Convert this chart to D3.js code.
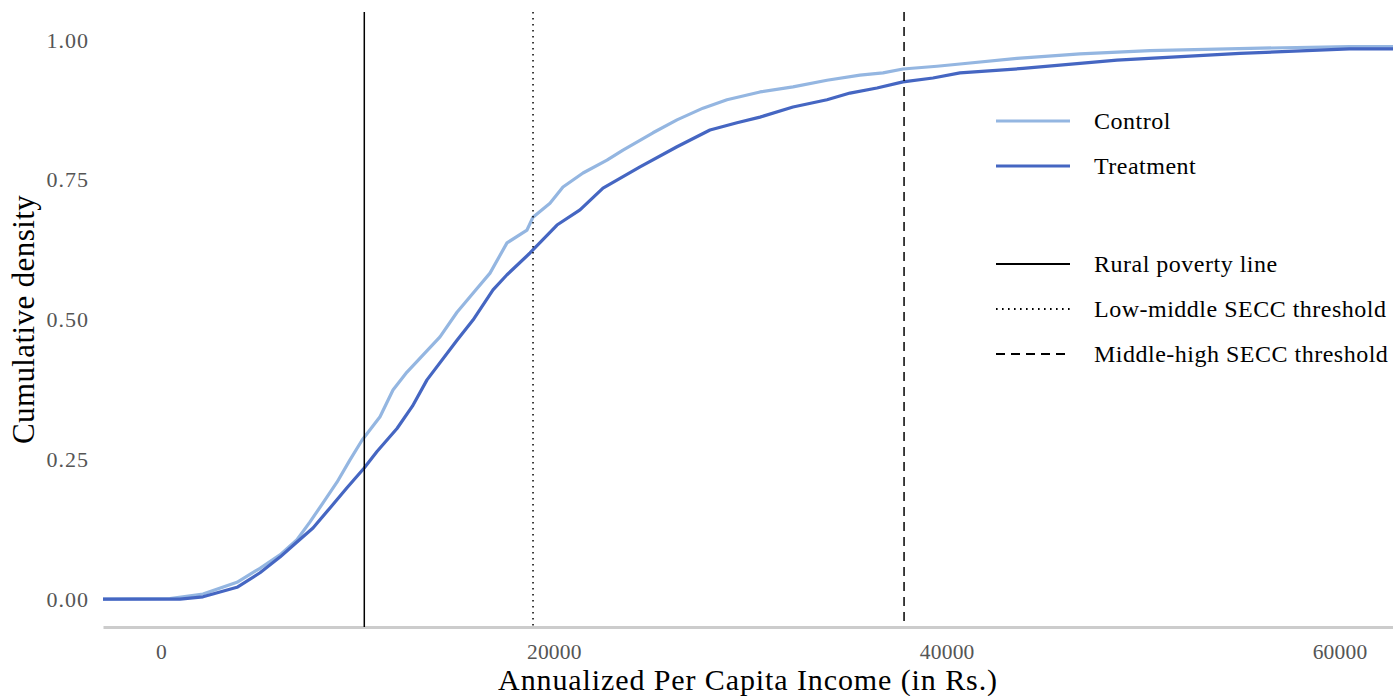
<!DOCTYPE html>
<html><head><meta charset="utf-8">
<script src="https://cdn.jsdelivr.net/npm/d3@7"></script>
<style>
body{margin:0;background:#fff}
svg{display:block}
text{font-family:"Liberation Serif","Times New Roman",serif}
</style>
</head><body>
<svg id="chart" width="1393" height="696"></svg>
<script>
// ---- data ----
const controlIncome = [458, 2138, 3869, 5040, 6058, 6924, 7586, 8248, 8960, 9622, 10233, 11150, 11811, 12524, 14204, 15070, 15884, 16750, 17615, 18633, 18939, 19804, 20466, 21485, 22706, 23521, 25048, 26270, 27594, 28816, 30496, 32176, 33907, 35587, 36758, 37776, 39507, 40678, 43580, 46787, 50351, 55442, 60500];
const controlCdf    = [0.001, 0.009, 0.030, 0.055, 0.079, 0.106, 0.138, 0.172, 0.209, 0.249, 0.284, 0.326, 0.374, 0.406, 0.469, 0.513, 0.547, 0.583, 0.637, 0.660, 0.683, 0.708, 0.737, 0.762, 0.785, 0.803, 0.834, 0.857, 0.878, 0.893, 0.907, 0.916, 0.928, 0.937, 0.941, 0.948, 0.953, 0.957, 0.967, 0.975, 0.981, 0.985, 0.988];
const treatmentIncome = [967, 2138, 3869, 5040, 6058, 6924, 7738, 8604, 9469, 10335, 10997, 12015, 12800, 13542, 15070, 15884, 16903, 17615, 18786, 20161, 21332, 22503, 24387, 26270, 27950, 29325, 30496, 32176, 33907, 35078, 36452, 37776, 39303, 40678, 43885, 48671, 54933, 60500];
const treatmentCdf    = [0.000, 0.004, 0.021, 0.047, 0.075, 0.102, 0.127, 0.163, 0.199, 0.234, 0.264, 0.305, 0.345, 0.392, 0.463, 0.499, 0.553, 0.580, 0.619, 0.669, 0.696, 0.735, 0.773, 0.809, 0.839, 0.852, 0.862, 0.880, 0.893, 0.905, 0.914, 0.925, 0.932, 0.941, 0.949, 0.964, 0.976, 0.984];
const groupNames = ["Control", "Treatment"];
const thresholdNames  = ["Rural poverty line", "Low-middle SECC threshold", "Middle-high SECC threshold"];
const thresholdValues = [10350, 18940, 37830];
const xTickValues = [0, 20000, 40000, 60000];
const yTickValues = [0, 0.25, 0.5, 0.75, 1];
const xDomain = [-2953, 62723];
const yDomain = [-0.05, 1.05];

// ---- styles ----
const groupColors = {"Control": "#94b6e1", "Treatment": "#4566c2"};
const thresholdDash = {"Rural poverty line": null, "Low-middle SECC threshold": "1.6,4.4", "Middle-high SECC threshold": "9,6"};

const svg = d3.select("#chart");
const margin = {left: 103, right: 0, top: 12, bottom: 69};
const W = 1393, H = 696;
const x = d3.scaleLinear().domain(xDomain).range([margin.left, W - margin.right]);
const y = d3.scaleLinear().domain(yDomain).range([H - margin.bottom, margin.top]);

svg.append("clipPath").attr("id", "clip").append("rect")
  .attr("x", margin.left).attr("y", margin.top)
  .attr("width", W - margin.left - margin.right).attr("height", H - margin.top - margin.bottom);

// axes
const xAxis = svg.append("g").attr("transform", `translate(0,${y.range()[0]})`)
  .call(d3.axisBottom(x).tickValues(xTickValues).tickFormat(d3.format("d")).tickSize(0).tickSizeOuter(0).tickPadding(17));
xAxis.select(".domain").attr("stroke", "#cccccc").attr("stroke-width", 3);
xAxis.selectAll("text").attr("fill", "#555").style("font-size", "21.5px").attr("dy", "0.71em").style("letter-spacing", "0.2px");

const yAxis = svg.append("g").attr("transform", `translate(${margin.left},0)`)
  .call(d3.axisLeft(y).tickValues(yTickValues).tickFormat(d3.format(".2f")).tickSize(0).tickPadding(14));
yAxis.select(".domain").remove();
yAxis.selectAll("text").attr("fill", "#555").style("font-size", "22px").style("letter-spacing", "1px");

// series
const series = [
  {name: "Control", pts: controlIncome.map((v, i) => [v, controlCdf[i]])},
  {name: "Treatment", pts: treatmentIncome.map((v, i) => [v, treatmentCdf[i]])}
];
// pad like an ECDF: flat at 0 to the left edge and flat at the last value to the right edge
series.forEach(s => {
  s.pts.unshift([xDomain[0], 0]);
  s.pts.push([xDomain[1], s.pts[s.pts.length - 1][1]]);
});
const line = d3.line().x(d => x(d[0])).y(d => y(d[1]));
const plot = svg.append("g").attr("clip-path", "url(#clip)");
plot.selectAll("path.series").data(series).join("path")
  .attr("class", "series")
  .attr("d", d => line(d.pts))
  .attr("fill", "none")
  .attr("stroke", d => groupColors[d.name])
  .attr("stroke-width", 3.2)
  .attr("stroke-linejoin", "round");

// thresholds
const thresholds = thresholdNames.map((n, i) => ({name: n, value: thresholdValues[i]}));
plot.selectAll("line.thr").data(thresholds).join("line")
  .attr("class", "thr")
  .attr("x1", d => x(d.value)).attr("x2", d => x(d.value))
  .attr("y1", y.range()[1]).attr("y2", y.range()[0])
  .attr("stroke", "#000").attr("stroke-width", 1.5)
  .attr("stroke-dasharray", d => thresholdDash[d.name]);

// legend
const legendItems = [
  ...groupNames.map(n => ({label: n, color: groupColors[n], dash: null, w: 3})),
  null,
  ...thresholds.map(t => ({label: t.name, color: "#000", dash: thresholdDash[t.name], w: 2}))
];
const lg = svg.append("g").attr("transform", "translate(996,121)");
legendItems.forEach((it, i) => {
  if (!it) return;
  const yy = i * 45 + (i > 2 ? 8 : 0);
  lg.append("line").attr("x1", 0).attr("x2", 74).attr("y1", yy).attr("y2", yy)
    .attr("stroke", it.color).attr("stroke-width", it.w).attr("stroke-dasharray", it.dash);
  lg.append("text").attr("x", 98).attr("y", yy).attr("dy", "0.33em")
    .style("font-size", "24px").style("letter-spacing", "0.5px").attr("fill", "#000").text(it.label);
});

// axis titles
svg.append("text").attr("x", (margin.left + W - margin.right) / 2).attr("y", 690)
  .attr("text-anchor", "middle").style("font-size", "30px").style("letter-spacing", "0.9px")
  .text("Annualized Per Capita Income (in Rs.)");
svg.append("text").attr("transform", `translate(34,${(y.range()[0] + y.range()[1]) / 2}) rotate(-90)`)
  .attr("text-anchor", "middle").style("font-size", "31px").style("letter-spacing", "0.4px")
  .text("Cumulative density");
</script>
</body></html>
